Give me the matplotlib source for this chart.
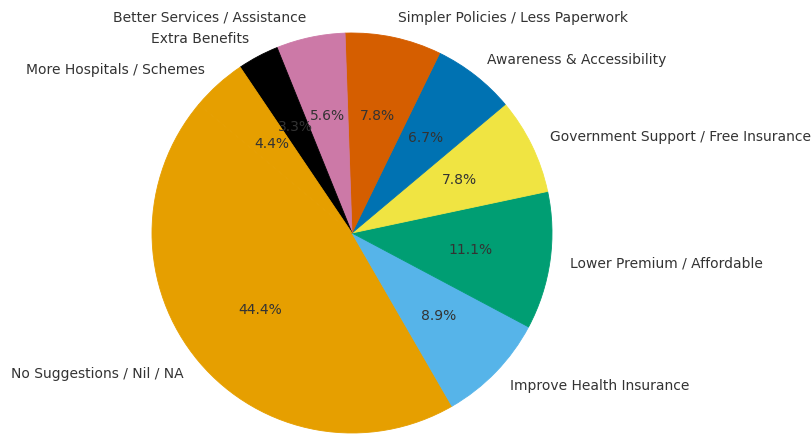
import matplotlib
matplotlib.use("Agg")
import matplotlib.pyplot as plt

# Survey suggestions (response counts out of 90)
categories = [
    "No Suggestions / Nil / NA",
    "Improve Health Insurance",
    "Lower Premium / Affordable",
    "Government Support / Free Insurance",
    "Awareness & Accessibility",
    "Simpler Policies / Less Paperwork",
    "Better Services / Assistance",
    "Extra Benefits",
    "More Hospitals / Schemes",
]
counts = [40, 8, 10, 7, 6, 7, 5, 3, 4]

# Okabe-Ito palette, cycled
palette = ["#E69F00", "#56B4E9", "#009E73", "#F0E442",
           "#0072B2", "#D55E00", "#CC79A7", "#000000"]
colors = [palette[i % len(palette)] for i in range(len(counts))]

W, H, DPI = 811, 434, 100
fig = plt.figure(figsize=(W / DPI, H / DPI), dpi=DPI)

# Square axes: pie radius of 200 px centred at (352, 233) from top-left
R = 200
side = 2.5 * R
cx, cy = 352, H - 233
ax = fig.add_axes([(cx - side / 2) / W, (cy - side / 2) / H, side / W, side / H])

wedges, texts, autotexts = ax.pie(
    counts,
    labels=categories,
    colors=colors,
    autopct="%1.1f%%",
    startangle=140,
    counterclock=True,
    textprops={"fontsize": 10, "color": "#333333"},
)
# Stroke each wedge in its own fill colour so neighbouring slices join cleanly
for w, c in zip(wedges, colors):
    w.set_edgecolor(c)
    w.set_linewidth(0.6)

ax.set_xlim(-1.25, 1.25)
ax.set_ylim(-1.25, 1.25)
ax.axis("off")

fig.savefig("out.png", dpi=DPI)
